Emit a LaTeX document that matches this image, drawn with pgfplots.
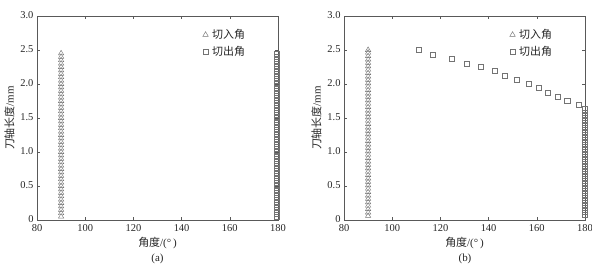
\documentclass[border=0pt]{standalone}
\usepackage{pgfplots}
\pgfplotsset{compat=1.18}
\usepackage{fontspec}
\setmainfont{Liberation Serif}
\newfontfamily\cjk{Noto Sans CJK SC}
\definecolor{mk}{gray}{0.45}
\begin{document}
\begin{tikzpicture}
\useasboundingbox (0bp,0bp) rectangle (592bp,277bp);
\pgfplotsset{
  myax/.style={
    scale only axis, width=241bp, height=204bp,
    xmin=80, xmax=180, ymin=0, ymax=3,
    xtick={80,100,...,180}, ytick={0,0.5,...,3.0},
    yticklabels={0,0.5,1.0,1.5,2.0,2.5,3.0},
    tick align=inside, tick pos=both,
    major tick length=3bp,
    clip=false,
    axis line style={gray!70!black, line width=0.6pt},
    every tick/.style={gray!70!black, line width=0.5pt},
    tick label style={font=\fontsize{10.5}{12}\selectfont, text=black!85},
    xticklabel style={yshift=-1.5bp},
    yticklabel style={yshift=1bp},
    /pgf/number format/assume math mode=true,
    xlabel={{\cjk 角度}/(°\,)},
    ylabel={{\cjk 刀轴长度}/mm},
    label style={font=\fontsize{11}{13}\selectfont, text=black!85},
    xlabel style={yshift=2bp},
    ylabel style={yshift=-1bp},
    legend style={draw=none, fill=none, at={(0.885,0.955)}, anchor=north east,
      font=\fontsize{11}{13}\selectfont\cjk, text=black!85, row sep=2pt,
      /tikz/every odd column/.style={column sep=2bp}},
    legend cell align=left,
  },
  tri/.style={only marks, mark=triangle, mark size=3.1bp, mark options={draw=mk, line width=0.45pt}},
  sq/.style={only marks, mark=square, mark size=2.6bp, mark options={draw=mk, line width=0.45pt}},
}
\begin{axis}[myax, at={(37bp,57bp)}, anchor=south west]
\addplot[tri] table {
x y
90 0.05
90 0.10
90 0.15
90 0.20
90 0.25
90 0.30
90 0.35
90 0.40
90 0.45
90 0.50
90 0.55
90 0.60
90 0.65
90 0.70
90 0.75
90 0.80
90 0.85
90 0.90
90 0.95
90 1.00
90 1.05
90 1.10
90 1.15
90 1.20
90 1.25
90 1.30
90 1.35
90 1.40
90 1.45
90 1.50
90 1.55
90 1.60
90 1.65
90 1.70
90 1.75
90 1.80
90 1.85
90 1.90
90 1.95
90 2.00
90 2.05
90 2.10
90 2.15
90 2.20
90 2.25
90 2.30
90 2.35
90 2.40
90 2.45
};
\addlegendentry{切入角}
\addplot[sq] table {
x y
179.6 0.05
179.6 0.10
179.6 0.15
179.6 0.20
179.6 0.25
179.6 0.30
179.6 0.35
179.6 0.40
179.6 0.45
179.6 0.50
179.6 0.55
179.6 0.60
179.6 0.65
179.6 0.70
179.6 0.75
179.6 0.80
179.6 0.85
179.6 0.90
179.6 0.95
179.6 1.00
179.6 1.05
179.6 1.10
179.6 1.15
179.6 1.20
179.6 1.25
179.6 1.30
179.6 1.35
179.6 1.40
179.6 1.45
179.6 1.50
179.6 1.55
179.6 1.60
179.6 1.65
179.6 1.70
179.6 1.75
179.6 1.80
179.6 1.85
179.6 1.90
179.6 1.95
179.6 2.00
179.6 2.05
179.6 2.10
179.6 2.15
179.6 2.20
179.6 2.25
179.6 2.30
179.6 2.35
179.6 2.40
179.6 2.45
};
\addlegendentry{切出角}
\end{axis}
\node[font=\fontsize{11}{13}\selectfont, text=black!85] at (157.5bp,18bp) {(a)};

\begin{axis}[myax, at={(344bp,57bp)}, anchor=south west]
\addplot[tri] table {
x y
90 0.06
90 0.11
90 0.16
90 0.21
90 0.26
90 0.31
90 0.36
90 0.41
90 0.46
90 0.51
90 0.56
90 0.61
90 0.66
90 0.71
90 0.76
90 0.81
90 0.86
90 0.91
90 0.96
90 1.01
90 1.06
90 1.11
90 1.16
90 1.21
90 1.26
90 1.31
90 1.36
90 1.41
90 1.46
90 1.51
90 1.56
90 1.61
90 1.66
90 1.71
90 1.76
90 1.81
90 1.86
90 1.91
90 1.96
90 2.01
90 2.06
90 2.11
90 2.16
90 2.21
90 2.26
90 2.31
90 2.36
90 2.41
90 2.46
90 2.50
};
\addlegendentry{切入角}
\addplot[sq] table {
x y
110.9 2.50
116.8 2.43
124.8 2.37
130.9 2.30
136.6 2.25
142.6 2.19
146.8 2.12
151.7 2.06
156.6 2.00
160.8 1.94
164.6 1.87
168.7 1.81
172.6 1.75
177.4 1.69
180 1.63
180 1.58
180 1.53
180 1.48
180 1.43
180 1.38
180 1.33
180 1.28
180 1.23
180 1.18
180 1.13
180 1.08
180 1.03
180 0.98
180 0.93
180 0.88
180 0.83
180 0.78
180 0.73
180 0.68
180 0.63
180 0.58
180 0.53
180 0.48
180 0.43
180 0.38
180 0.33
180 0.28
180 0.23
180 0.18
180 0.13
180 0.08
};
\addlegendentry{切出角}
\end{axis}
\node[font=\fontsize{11}{13}\selectfont, text=black!85] at (465bp,18bp) {(b)};
\end{tikzpicture}
\end{document}
